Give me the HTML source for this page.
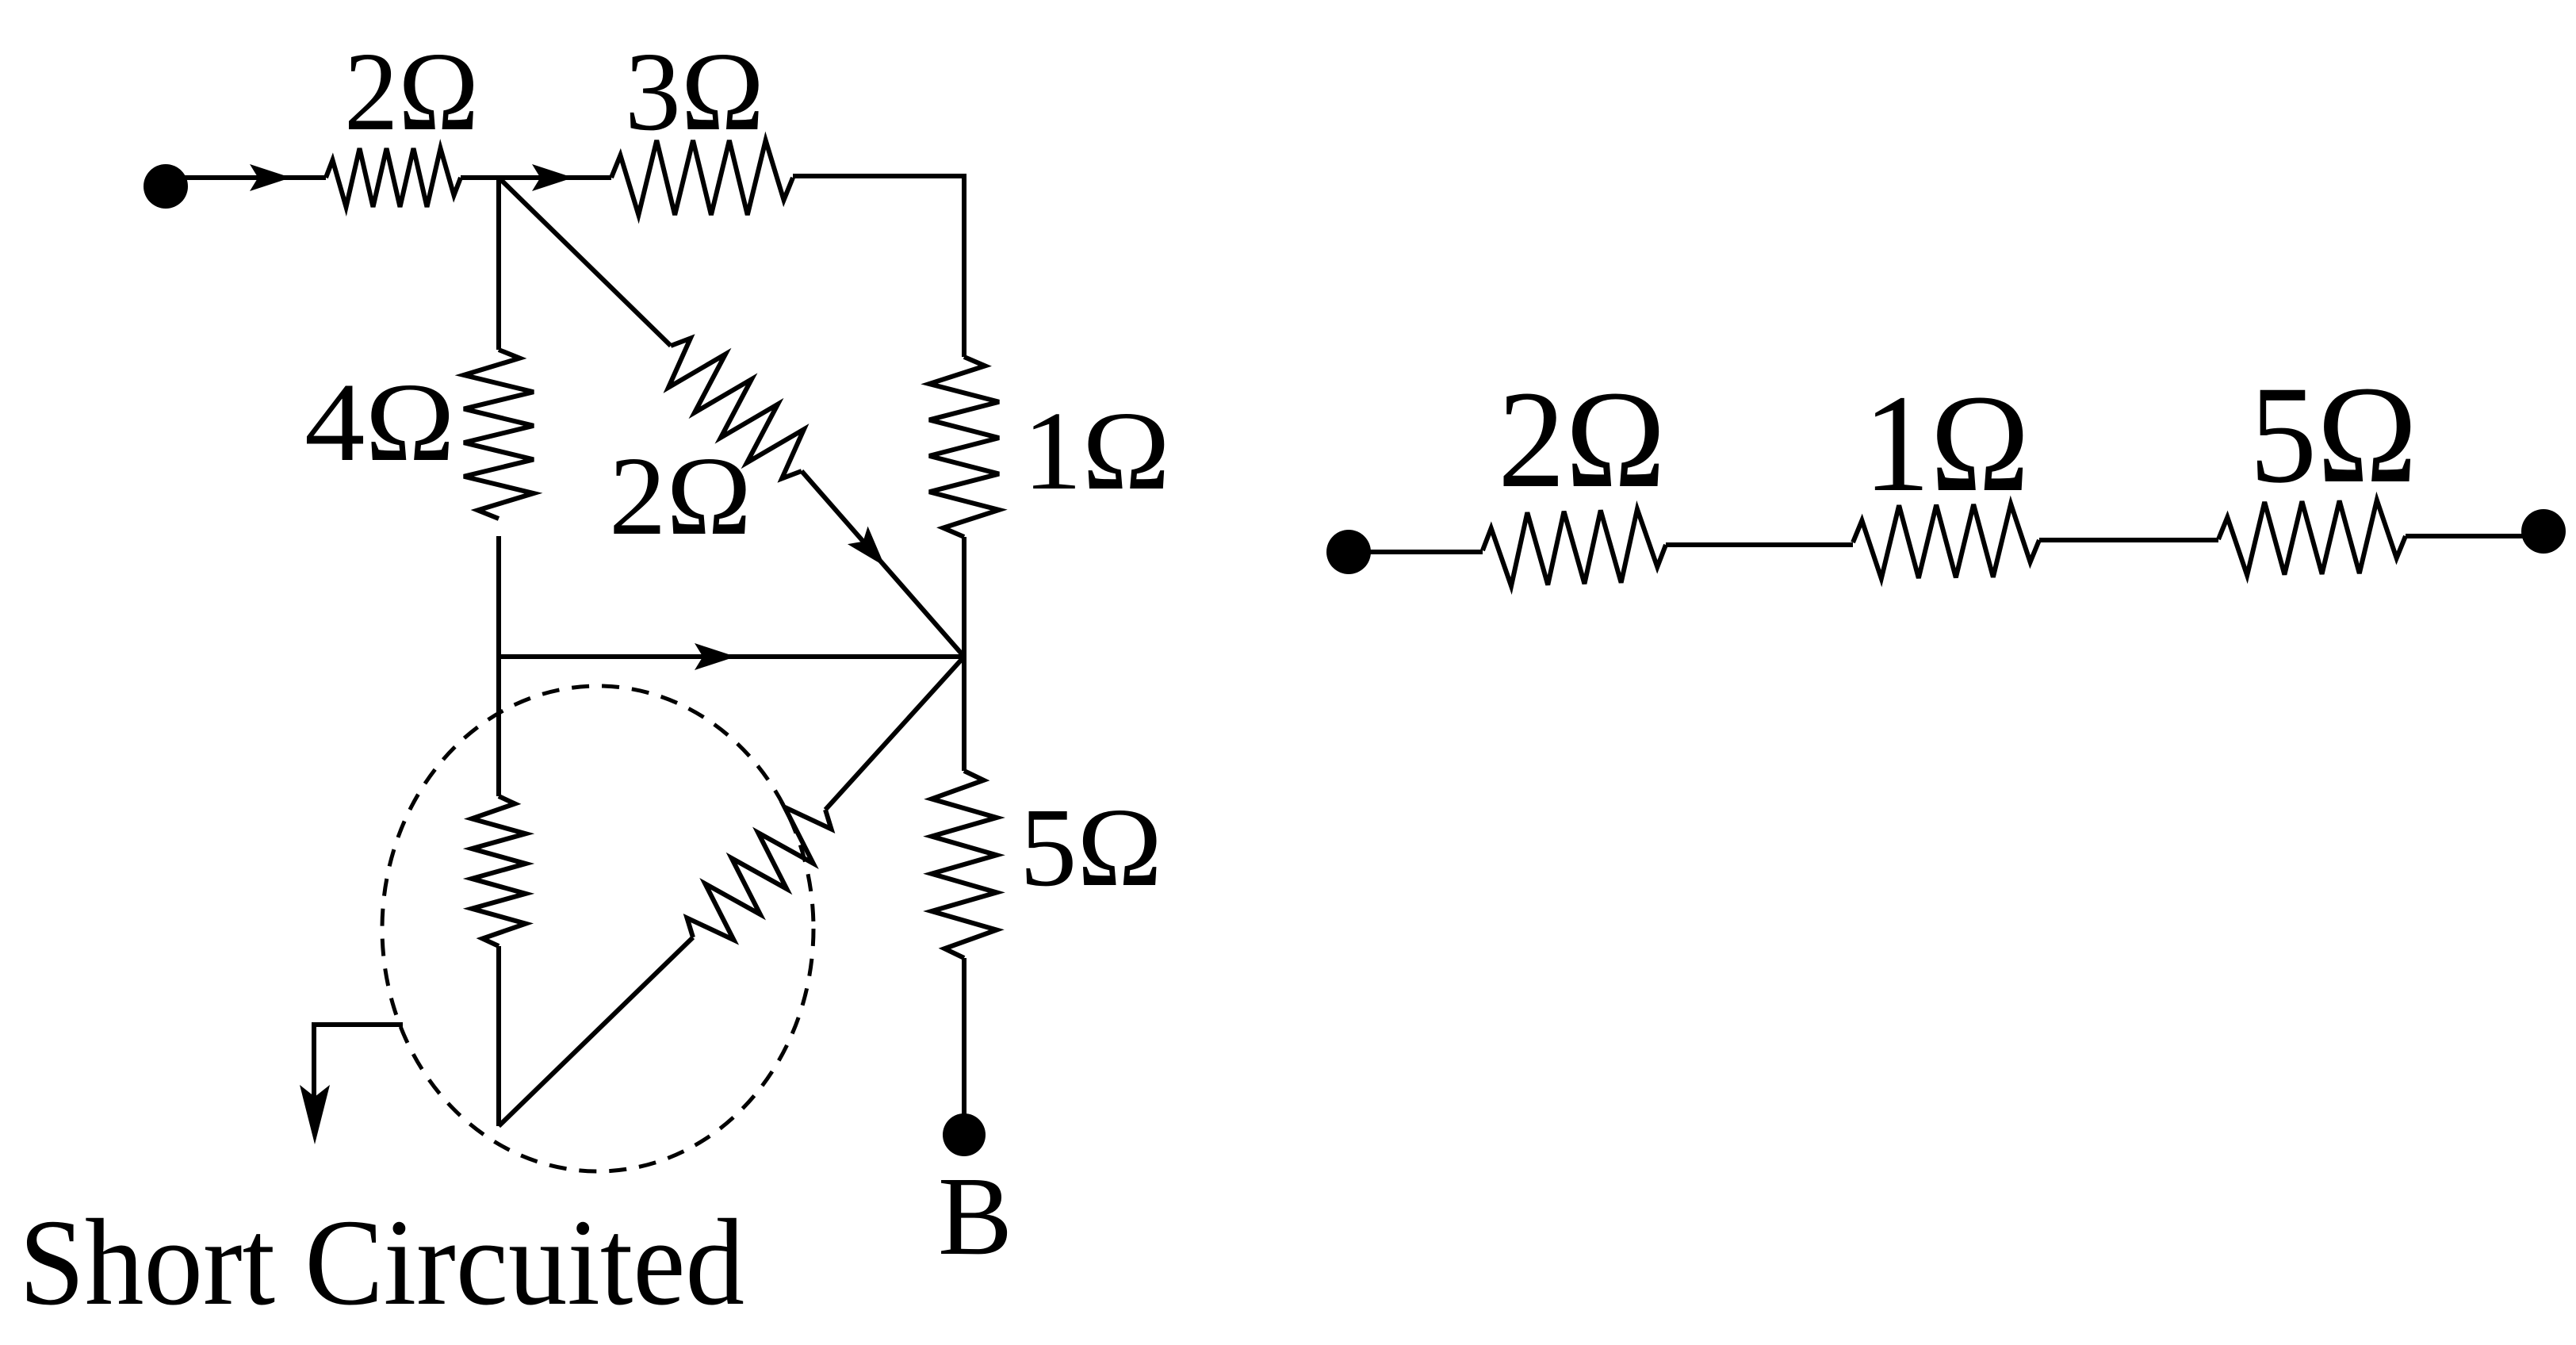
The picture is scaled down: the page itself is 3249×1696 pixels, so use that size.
<!DOCTYPE html>
<html><head><meta charset="utf-8"><style>
html,body{margin:0;padding:0;background:#fff;}
svg{display:block}
text{font-family:"Liberation Serif","Times New Roman",serif;fill:#000}
</style></head><body>
<svg id="s" width="3249" height="1696" viewBox="0 0 3249 1696" xmlns="http://www.w3.org/2000/svg" font-family="Liberation Serif, serif">
<g id="g" fill="none" stroke="#000" stroke-width="6" stroke-linejoin="miter"></g>
<g font-size="142">
<text x="434" y="163" textLength="170" lengthAdjust="spacingAndGlyphs">2Ω</text>
<text x="788" y="163" textLength="176" lengthAdjust="spacingAndGlyphs">3Ω</text>
<text x="384" y="580" textLength="190" lengthAdjust="spacingAndGlyphs">4Ω</text>
<text x="768" y="673" textLength="180" lengthAdjust="spacingAndGlyphs">2Ω</text>
<text x="1290" y="616" textLength="186" lengthAdjust="spacingAndGlyphs">1Ω</text>
<text x="1286" y="1116" textLength="180" lengthAdjust="spacingAndGlyphs">5Ω</text>
<text x="1183" y="1581" textLength="94" lengthAdjust="spacingAndGlyphs">B</text>
</g>
<text x="24" y="1644" font-size="156" textLength="915" lengthAdjust="spacingAndGlyphs">Short Circuited</text>
<g font-size="176">
<text x="1889" y="613" textLength="212" lengthAdjust="spacingAndGlyphs">2Ω</text>
<text x="2350" y="618" textLength="210" lengthAdjust="spacingAndGlyphs">1Ω</text>
<text x="2837" y="607" textLength="212" lengthAdjust="spacingAndGlyphs">5Ω</text>
</g>
</svg>
<script>
var g=document.getElementById('g'),NS="http://www.w3.org/2000/svg";
function el(t,a){var e=document.createElementNS(NS,t);for(var k in a)e.setAttribute(k,a[k]);g.appendChild(e);return e;}
function line(pts){el('polyline',{points:pts.map(function(p){return p.join(',')}).join(' ')});}
function zig(x0,y0,x1,y1,amp,n){
 n=n||4;var dx=x1-x0,dy=y1-y0,L=Math.hypot(dx,dy),ux=dx/L,uy=dy/L,px=uy,py=-ux;
 var pts=[[x0,y0]],m=2*n+1;
 for(var k=0;k<=m;k++){var t=(k+0.5)/(m+1);var a=(k==0||k==m)?amp*0.6:amp;var s=(k%2==0)?1:-1;
  pts.push([x0+dx*t+px*a*s,y0+dy*t+py*a*s]);}
 pts.push([x1,y1]);line(pts);}
function arrow(tx,ty,dx,dy,len,w){len=len||52;w=w||17;var L=Math.hypot(dx,dy),ux=dx/L,uy=dy/L,px=-uy,py=ux;
 var bx=tx-ux*len,by=ty-uy*len,nx=tx-ux*len*0.8,ny=ty-uy*len*0.8;
 el('polygon',{points:[tx,ty,bx+px*w,by+py*w,nx,ny,bx-px*w,by-py*w].join(','),fill:'#000',stroke:'none'});}
function dot(x,y,r){el('circle',{cx:x,cy:y,r:r,fill:'#000',stroke:'none'});}
dot(209,235,28);
line([[209,224],[411,224]]);arrow(367,224,1,0);
zig(411,224,581,224,37,4);
line([[581,224],[771,224]]);arrow(723,224,1,0);
zig(771,224,1000,224,47,4);
line([[1000,222],[1216,222],[1216,450]]);
zig(1216,450,1216,677,44,4);
line([[1216,677],[1216,972]]);
zig(1216,972,1216,1208,41,4);
line([[1216,1208],[1216,1431]]);
dot(1216,1431,27);
line([[629,224],[629,441]]);
zig(629,441,629,654,44,4);
line([[629,676],[629,1004]]);
zig(629,1004,629,1193,34,4);
line([[629,1193],[629,1420]]);
line([[629,828],[1216,828]]);arrow(928,828,1,0);
line([[629,224],[846,436]]);
zig(846,436,1011,594,40,4);
line([[1011,594],[1216,828]]);arrow(1116,714,205,234);
line([[629,1420],[874,1182]]);
zig(874,1182,1041,1021,38,4);
line([[1041,1021],[1216,828]]);
el('ellipse',{cx:754,cy:1171,rx:272,ry:306,'stroke-dasharray':'22,16','stroke-width':5});
line([[508,1292],[396,1292],[396,1400]]);arrow(397,1443,0,1,75,19);
dot(1701,696,28);dot(3208,670,28);
line([[1701,696],[1870,696]]);
zig(1870,694,2101,687,46,4);
line([[2101,687],[2337,687]]);
zig(2337,684,2572,681,46,4);
line([[2572,681],[2798,681]]);
zig(2798,680,3034,676,46,4);
line([[3034,676],[3208,676]]);
</script>
</body></html>
